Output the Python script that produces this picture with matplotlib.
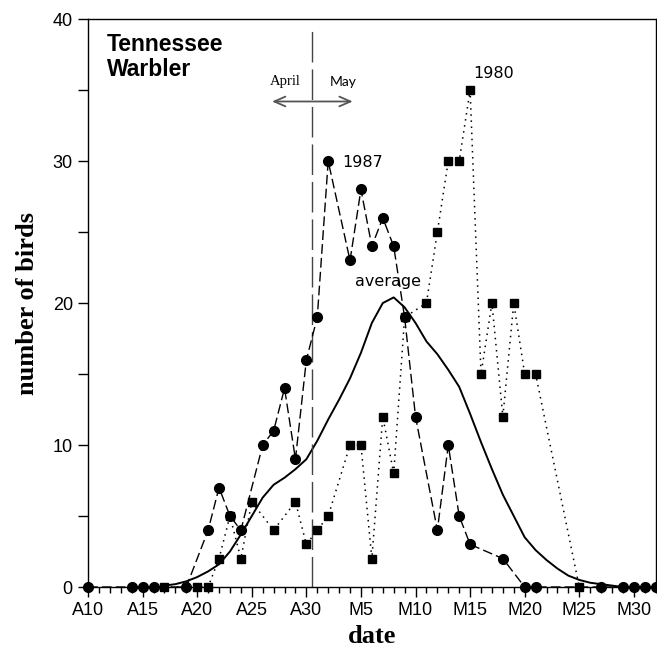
import numpy as np
import matplotlib
matplotlib.use('Agg')
from matplotlib import pyplot as plt
from matplotlib.ticker import MultipleLocator, FuncFormatter

# days counted from April 1 (May 1 = 31)
days_1987 = [10, 14, 15, 16, 19, 21, 22, 23, 24, 26, 27, 28, 29, 30, 31, 32, 34, 35, 36, 37,
             38, 39, 40, 42, 43, 44, 45, 48, 50, 51, 57, 59, 60, 61, 62]
birds_1987 = [0, 0, 0, 0, 0, 4, 7, 5, 4, 10, 11, 14, 9, 16, 19, 30, 23, 28, 24, 26,
              24, 19, 12, 4, 10, 5, 3, 2, 0, 0, 0, 0, 0, 0, 0]

days_1980 = [17, 20, 21, 22, 23, 24, 25, 27, 29, 30, 31, 32, 34, 35, 36, 37, 38, 39, 41, 42,
             43, 44, 45, 46, 47, 48, 49, 50, 51, 55]
birds_1980 = [0, 0, 0, 2, 5, 2, 6, 4, 6, 3, 4, 5, 10, 10, 2, 12, 8, 19, 20, 25,
              30, 30, 35, 15, 20, 12, 20, 15, 15, 0]

days_avg = list(range(17, 60))
birds_avg = [0.1, 0.2, 0.4, 0.7, 1.1, 1.6, 2.5, 3.7, 5.0, 6.3, 7.2, 7.7, 8.3, 9.0, 10.3,
             11.8, 13.2, 14.7, 16.5, 18.6, 20.0, 20.4, 19.7, 18.6, 17.3, 16.4, 15.3, 14.1,
             12.2, 10.2, 8.3, 6.5, 5.0, 3.5, 2.6, 1.9, 1.3, 0.8, 0.5, 0.3, 0.2, 0.1, 0.0]

tick_days = [10, 15, 20, 25, 30, 35, 40, 45, 50, 55, 60]
tick_labels = ['A10', 'A15', 'A20', 'A25', 'A30', 'M5', 'M10', 'M15', 'M20', 'M25', 'M30']

fig = plt.figure(figsize=(6.57, 6.6), dpi=100)
ax = fig.add_axes([0.134, 0.1106, 0.864, 0.8604])

ax.plot(days_avg, birds_avg, color='black', lw=1.4, solid_capstyle='round')
ax.plot(days_1980, birds_1980, color='black', lw=1.1, linestyle=(0, (1, 3)),
        marker='s', ms=6, clip_on=False, zorder=3)
ax.plot(days_1987, birds_1987, color='black', lw=1.0, linestyle=(0, (7, 3)),
        marker='o', ms=7, clip_on=False, zorder=4)

# April / May boundary
ax.plot([30.55, 30.55], [0, 39.4], color='#444444', lw=1.0, linestyle=(0, (22, 5)))
ax.annotate('', xy=(26.6, 34.2), xytext=(34.5, 34.2),
            arrowprops=dict(arrowstyle='<->,head_length=0.8,head_width=0.35',
                            color='#555555', lw=1.3))
ax.text(28.1, 35.6, 'April', ha='center', va='center', fontsize=10.5,
        family='Liberation Serif')
ax.text(33.4, 35.6, 'May', ha='center', va='center', fontsize=10, family='Lato')

ax.text(33.3, 29.9, '1987', ha='left', va='center', fontsize=11.5, family='DejaVu Sans')
ax.text(47.2, 36.2, '1980', ha='center', va='center', fontsize=11.5, family='DejaVu Sans')
ax.text(37.5, 21.5, 'average', ha='center', va='center', fontsize=11.5, family='DejaVu Sans')

ax.text(0.033, 0.975, 'Tennessee\nWarbler', transform=ax.transAxes, ha='left', va='top',
        fontsize=16.5, fontweight='bold', family='Liberation Sans', linespacing=1.1)

ax.set_xlim(10, 62)
ax.set_ylim(0, 40)
ax.set_xticks(tick_days)
ax.set_xticklabels(tick_labels)
ax.xaxis.set_minor_locator(MultipleLocator(1))
ax.yaxis.set_major_locator(MultipleLocator(5))
ax.yaxis.set_major_formatter(FuncFormatter(lambda v, p: '%d' % v if v % 10 == 0 else ''))
ax.tick_params(axis='both', which='major', direction='out', length=7, width=1,
               labelsize=13, top=False, right=False)
ax.tick_params(axis='x', which='minor', direction='out', length=4, width=1, top=False)
for lab in ax.get_xticklabels() + ax.get_yticklabels():
    lab.set_family('Liberation Sans')
ax.tick_params(axis='x', pad=4)
ax.tick_params(axis='y', pad=4)

ax.set_xlabel('date', fontsize=19, fontweight='bold', family='Liberation Serif', labelpad=4)
ax.set_ylabel('number of birds', fontsize=19, fontweight='bold', family='Liberation Serif',
              labelpad=10)

for s in ax.spines.values():
    s.set_linewidth(1.0)

fig.savefig('out.png', dpi=100)
